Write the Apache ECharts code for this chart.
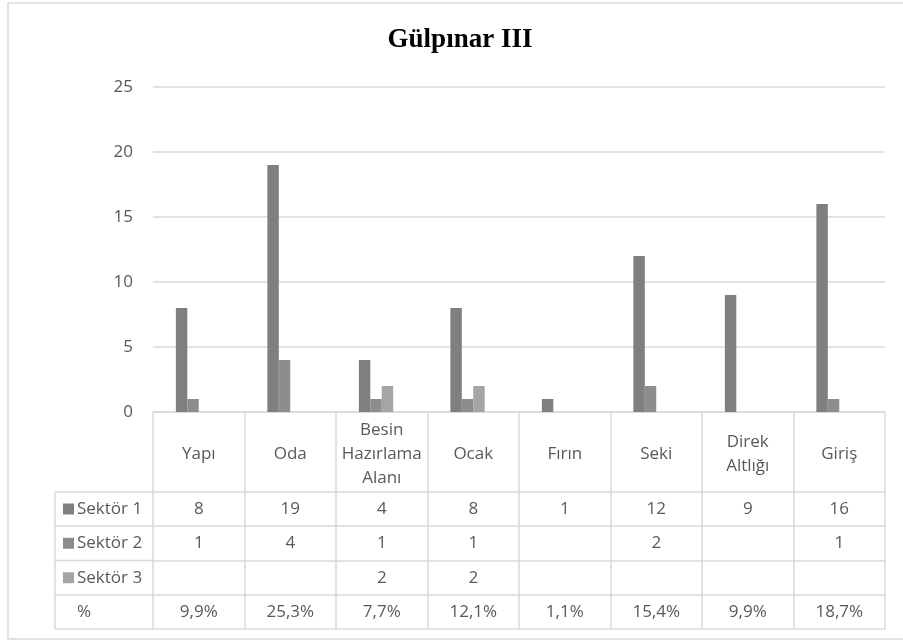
<!DOCTYPE html>
<html>
<head>
<meta charset="utf-8">
<script src="https://cdn.jsdelivr.net/npm/echarts@6/dist/echarts.min.js"></script>
<style>html,body{margin:0;padding:0;background:#fff;}#c{width:903px;height:641px;}</style>
</head>
<body>
<div id="c"></div>
<script>
const titleText = 'Gülpınar III';
const categories = ['Yapı', 'Oda', 'Besin\nHazırlama\nAlanı', 'Ocak', 'Fırın', 'Seki', 'Direk\nAltlığı', 'Giriş'];
const seriesNames = ['Sektör 1', 'Sektör 2', 'Sektör 3'];
const sektor1 = [8, 19, 4, 8, 1, 12, 9, 16];
const sektor2 = [1, 4, 1, 1, null, 2, null, 1];
const sektor3 = [null, null, 2, 2, null, null, null, null];
const pctName = '%';
const pct = [9.9, 25.3, 7.7, 12.1, 1.1, 15.4, 9.9, 18.7];
const yTicks = [0, 5, 10, 15, 20, 25];

const colors = ['#7f7f7f', '#8d8d8d', '#a5a5a5'];
const font = 'Open Sans';
const fs = 17;
const textColor = '#595959';
const lineColor = '#d9d9d9';

const chart = echarts.init(document.getElementById('c'));

const gridLeft = 153, gridRight = 885, axisY = 412;
const rowLines = [492, 526, 560.5, 595, 629];
const rowData = [sektor1, sektor2, sektor3, pct];
const fmtPct = v => (v == null ? '' : v.toFixed(1).replace('.', ',') + '%');

const xAxes = [{
  type: 'category', data: categories, position: 'bottom', gridIndex: 0,
  axisLine: { show: true, lineStyle: { color: lineColor, width: 1.5 } },
  axisTick: { show: true, length: rowLines[rowLines.length - 1] - axisY, interval: 0, lineStyle: { color: lineColor, width: 1.5 } },
  axisLabel: { interval: 0, margin: (rowLines[0] - axisY) / 2 + 2, verticalAlign: 'middle', lineHeight: 24,
    fontFamily: font, fontSize: fs, color: textColor }
}];
for (let r = 0; r < rowLines.length; r++) {
  const top = rowLines[r];
  const bottom = rowLines[r + 1];
  const data = rowData[r];
  xAxes.push({
    type: 'category', data: categories, position: 'bottom', gridIndex: 0,
    offset: top - axisY,
    axisLine: { show: true, lineStyle: { color: lineColor, width: 1.5 } },
    axisTick: { show: false },
    axisLabel: data ? {
      show: true, interval: 0, margin: (bottom - top) / 2, verticalAlign: 'middle',
      fontFamily: font, fontSize: fs, color: textColor,
      formatter: (v, i) => r === 3 ? fmtPct(data[i]) : (data[i] == null ? '' : String(data[i]))
    } : { show: false }
  });
}

const graphic = [
  { type: 'rect', shape: { x: 8, y: 3, width: 900, height: 636 }, style: { fill: 'none', stroke: lineColor, lineWidth: 1.5 }, silent: true },
  { type: 'line', shape: { x1: 55, y1: rowLines[0], x2: 55, y2: rowLines[rowLines.length - 1] }, style: { stroke: lineColor, lineWidth: 1.5 } },
  { type: 'text', x: 460, y: 40, style: { text: titleText, fontFamily: 'Liberation Serif', fontWeight: 'bold', fontSize: 27, fill: '#000', align: 'center', verticalAlign: 'middle' } }
];
rowLines.forEach(y => graphic.push({ type: 'line', shape: { x1: 55, y1: y, x2: gridLeft, y2: y }, style: { stroke: lineColor, lineWidth: 1.5 } }));
const legendLabels = seriesNames.concat([pctName]);
legendLabels.forEach((name, i) => {
  const cy = (rowLines[i] + rowLines[i + 1]) / 2;
  if (i < colors.length) {
    graphic.push({ type: 'rect', shape: { x: 63, y: cy - 5.5, width: 11, height: 11 }, style: { fill: colors[i] } });
  }
  graphic.push({ type: 'text', x: 77, y: cy, style: { text: name, fontFamily: font, fontSize: fs, fill: textColor, verticalAlign: 'middle', align: 'left' } });
});

const barSeries = [sektor1, sektor2, sektor3].map((d, i) => ({
  name: seriesNames[i], type: 'bar', data: d, xAxisIndex: 0,
  barGap: '0%', barCategoryGap: '50%',
  itemStyle: { color: colors[i] }, silent: true
}));
barSeries.push({
  name: pctName, type: 'bar', data: pct.map(v => v / 100), xAxisIndex: 0,
  barGap: '0%', barCategoryGap: '50%',
  itemStyle: { color: 'rgba(0,0,0,0)' }, silent: true
});

chart.setOption({
  animation: false,
  grid: { left: gridLeft, right: 903 - gridRight, top: 87, bottom: 641 - axisY, containLabel: false },
  xAxis: xAxes,
  yAxis: {
    type: 'value', min: yTicks[0], max: yTicks[yTicks.length - 1], interval: yTicks[1] - yTicks[0],
    axisLine: { show: false }, axisTick: { show: false },
    axisLabel: { margin: 20, fontFamily: font, fontSize: fs, color: textColor },
    splitLine: { lineStyle: { color: lineColor, width: 1.5 } }
  },
  series: barSeries,
  graphic: graphic
});
</script>
</body>
</html>
